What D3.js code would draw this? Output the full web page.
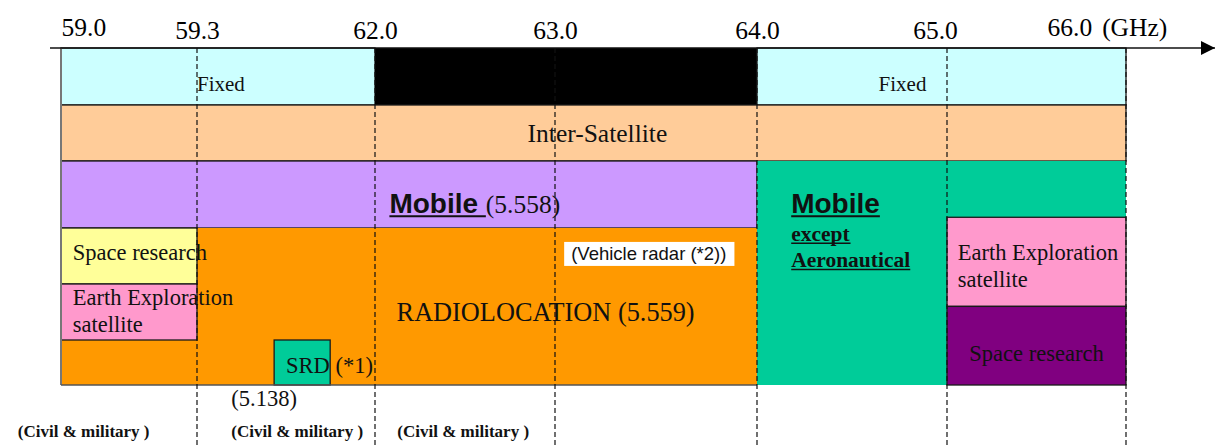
<!DOCTYPE html>
<html>
<head>
<meta charset="utf-8">
<script src="https://cdn.jsdelivr.net/npm/d3@7"></script>
<style>
  body { margin: 0; background: #fff; }
  svg text { white-space: pre; }
</style>
</head>
<body>
<div id="chart"></div>
<script>
// band edges (GHz) on the top axis
var freqTicks = [59.0, 59.3, 62.0, 63.0, 64.0, 65.0, 66.0];

// allocation blocks: service, from GHz, to GHz, top layer, bottom layer
var blocks = [
    ["fixed", 59.0, 62.0, 0, 1],
    ["unallocated", 62.0, 64.0, 0, 1],
    ["fixed", 64.0, 66.0, 0, 1],
    ["interSatellite", 59.0, 66.0, 1, 2],
    ["mobile", 59.0, 64.0, 2, 3],
    ["mobileExAero", 64.0, 66.0, 2, 6],
    ["radiolocation", 59.0, 64.0, 3, 6],
    ["spaceResearch", 59.0, 59.3, 3, 4],
    ["earthExploration", 59.0, 59.3, 4, 5],
    ["srd", 60.47, 61.32, 5, 6],
    ["earthExploration", 65.0, 66.0, 2.84, 4.4],
    ["spaceResearchDeep", 65.0, 66.0, 4.4, 6]
];

// labels: pieces of [text, kind], anchor GHz, baseline layer
var labels = [
    [[["Fixed", "small"]], 59.3, 0.75],
    [[["Fixed", "small"]], 64.64, 0.75],
    [[["Inter-Satellite", "bigMid"]], 63.21, 1.66],
    [[["Mobile ", "mobile"], ["(5.558)", "big"]], 62.08, 2.78],
    [[["Mobile", "mobile"]], 64.18, 2.78],
    [[["except", "boldSerif"]], 64.18, 3.23],
    [[["Aeronautical", "boldSerif"]], 64.18, 3.70],
    [[["(Vehicle radar (*2))", "note"]], 63.08, 3.57],
    [[["Space research", "med"]], 59.026, 3.57],
    [[["Earth Exploration", "med"]], 59.026, 4.38],
    [[["satellite", "med"]], 59.026, 4.86],
    [[["RADIOLOCATION (5.559)", "radio"]], 62.12, 4.66],
    [[["Earth Exploration", "med"]], 65.06, 3.57],
    [[["satellite", "med"]], 65.06, 4.05],
    [[["Space research", "medMid"]], 65.5, 5.47],
    [[["SRD (*1)", "med"]], 60.65, 5.73],
    [[["(5.138)", "med"]], 59.82, 6.33],
    [[["(Civil & military )", "civil"]], 59.05, 6.83],
    [[["(Civil & military )", "civil"]], 60.82, 6.83],
    [[["(Civil & military )", "civil"]], 62.49, 6.83]
];

var fills = {
    fixed: "#CCFFFF", unallocated: "#000000", interSatellite: "#FFCC99",
    mobile: "#CC99FF", mobileExAero: "#00CC99", radiolocation: "#FF9900",
    spaceResearch: "#FFFF99", earthExploration: "#FF99CC", srd: "#00CC99",
    spaceResearchDeep: "#800080"
};
var unstroked = { unallocated: 1, mobileExAero: 1, radiolocation: 1 };

var serif = "'Liberation Serif', 'Times New Roman', serif",
    sans = "'Liberation Sans', Arial, sans-serif";
var kinds = {
    small: { font: serif, size: 21 },
    big: { font: serif, size: 25.5 },
    radio: { font: serif, size: 26.3 },
    bigMid: { font: serif, size: 25.5, anchor: "middle" },
    med: { font: serif, size: 22.5 },
    medMid: { font: serif, size: 22.5, anchor: "middle" },
    mobile: { font: sans, size: 28, weight: "bold", underline: true },
    boldSerif: { font: serif, size: 21.5, weight: "bold", underline: true },
    note: { font: sans, size: 18.5, box: true },
    civil: { font: serif, size: 17, weight: "bold", anchor: "middle" }
};

var width = 1228, height = 448;

var svg = d3.select("#chart").append("svg")
    .attr("width", width)
    .attr("height", height);

// the frequency axis is not to scale, so each band edge gets its own spot
var x = d3.scaleLinear()
    .domain(freqTicks)
    .range([61, 197, 375, 555, 757, 947, 1126]);

var y = d3.scaleLinear()
    .domain([0, 1, 2, 3, 4, 5, 6, 7])
    .range([48, 105, 161, 228, 284, 340, 385, 448]);

svg.append("g")
    .selectAll("rect")
    .data(blocks)
    .join("rect")
    .attr("x", function (d) { return x(d[1]); })
    .attr("y", function (d) { return y(d[3]); })
    .attr("width", function (d) { return x(d[2]) - x(d[1]); })
    .attr("height", function (d) { return y(d[4]) - y(d[3]); })
    .attr("fill", function (d) { return fills[d[0]]; })
    .attr("stroke", function (d) { return unstroked[d[0]] ? "none" : "#1a1a1a"; })
    .attr("stroke-width", 1.3);

// grey frame on the left and along the bottom of radiolocation
svg.append("line")
    .attr("x1", x(59.0)).attr("x2", x(59.0))
    .attr("y1", y(0)).attr("y2", y(6))
    .attr("stroke", "#777").attr("stroke-width", 2);
svg.append("line")
    .attr("x1", x(59.0)).attr("x2", x(64.0))
    .attr("y1", y(6)).attr("y2", y(6))
    .attr("stroke", "#555").attr("stroke-width", 1.5);

// labels
labels.forEach(function (lab) {
    var first = kinds[lab[0][0][1]];
    var t = svg.append("text")
        .attr("x", x(lab[1]))
        .attr("y", y(lab[2]))
        .attr("fill", "#111")
        .attr("text-anchor", first.anchor || "start");
    lab[0].forEach(function (p) {
        var k = kinds[p[1]];
        t.append("tspan")
            .attr("font-family", k.font)
            .attr("font-size", k.size)
            .attr("font-weight", k.weight || "normal")
            .text(p[0]);
    });
    t.selectAll("tspan").each(function (d, i) {
        var k = kinds[lab[0][i][1]];
        var bb = this.getBBox();
        if (k.underline) {
            svg.append("line")
                .attr("x1", bb.x).attr("x2", bb.x + bb.width)
                .attr("y1", y(lab[2]) + k.size * 0.11)
                .attr("y2", y(lab[2]) + k.size * 0.11)
                .attr("stroke", "#111")
                .attr("stroke-width", k.size > 24 ? 2 : 1.5);
        }
        if (k.box) {
            svg.insert("rect", function () { return t.node(); })
                .attr("x", bb.x - 7)
                .attr("y", bb.y - 1)
                .attr("width", bb.width + 15)
                .attr("height", bb.height + 3)
                .attr("fill", "#fff");
        }
    });
});

// dashed band edges
svg.append("g")
    .selectAll("line")
    .data(freqTicks.slice(1))
    .join("line")
    .attr("x1", function (d) { return x(d); })
    .attr("x2", function (d) { return x(d); })
    .attr("y1", y(0))
    .attr("y2", height)
    .attr("stroke", "#111")
    .attr("stroke-width", 1.2)
    .attr("stroke-dasharray", "5,3");

// top axis with arrow
svg.append("defs").append("marker")
    .attr("id", "arrow")
    .attr("viewBox", "0 0 10 10")
    .attr("refX", 10).attr("refY", 5)
    .attr("markerWidth", 15).attr("markerHeight", 14)
    .attr("markerUnits", "userSpaceOnUse")
    .attr("orient", "auto")
    .append("path")
    .attr("d", "M0,0L10,5L0,10Z")
    .attr("fill", "#000");

svg.append("line")
    .attr("x1", 50).attr("x2", 1215)
    .attr("y1", y(0)).attr("y2", y(0))
    .attr("stroke", "#111")
    .attr("stroke-width", 1.5)
    .attr("marker-end", "url(#arrow)");

var axis = svg.append("g")
    .attr("transform", "translate(0," + y(0) + ")")
    .call(d3.axisTop(x).tickValues(freqTicks).tickSize(0).tickPadding(9.5).tickFormat(d3.format(".1f")));

axis.select(".domain").remove();
axis.selectAll("text")
    .attr("font-family", serif)
    .attr("font-size", 25.5)
    .attr("fill", "#000");

// small nudges so the labels sit as on the original slide
axis.selectAll(".tick").each(function (d) {
    var txt = d3.select(this).select("text");
    if (d === 59.0) txt.attr("text-anchor", "start").attr("dy", -3);
    if (d === 65.0) txt.attr("dx", -12);
    if (d === 66.0) {
        txt.attr("text-anchor", "start").attr("dx", -79).attr("dy", -3);
        txt.append("tspan").attr("dx", 10).text("(GHz)");
    }
});
</script>
</body>
</html>
